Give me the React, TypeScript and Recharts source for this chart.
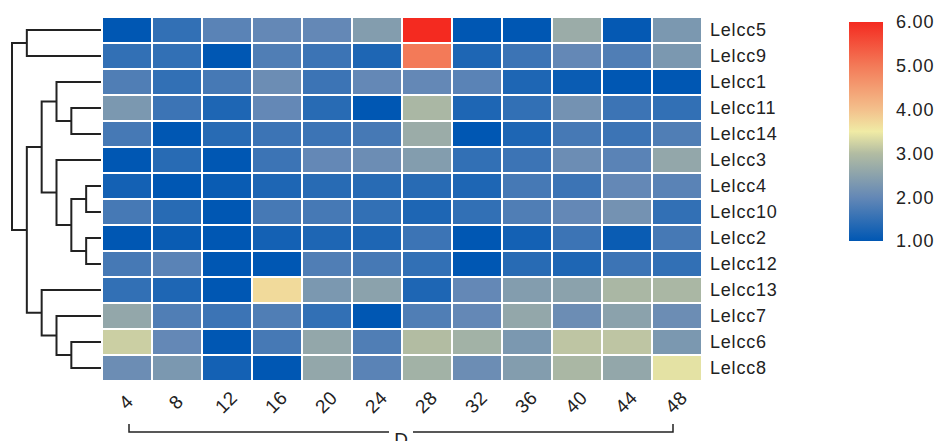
import React from 'react';
import { BarChart, Bar, Cell, XAxis, YAxis, ScatterChart, Scatter } from 'recharts';

const days = ['4', '8', '12', '16', '20', '24', '28', '32', '36', '40', '44', '48'];
const rowLabels = ['Lelcc5', 'Lelcc9', 'Lelcc1', 'Lelcc11', 'Lelcc14', 'Lelcc3', 'Lelcc4', 'Lelcc10', 'Lelcc2', 'Lelcc12', 'Lelcc13', 'Lelcc7', 'Lelcc6', 'Lelcc8'];

const lelcc5 = [1.0, 1.5, 1.9, 2.0, 2.0, 2.4, 6.0, 1.0, 1.0, 2.7, 1.05, 2.3];
const lelcc9 = [1.5, 1.5, 1.0, 1.8, 1.6, 1.3, 5.0, 1.3, 1.6, 2.0, 1.8, 2.3];
const lelcc1 = [1.8, 1.5, 1.7, 2.1, 1.6, 2.0, 2.0, 1.9, 1.3, 1.1, 1.0, 1.0];
const lelcc11 = [2.3, 1.6, 1.3, 2.0, 1.4, 1.0, 2.9, 1.3, 1.5, 2.2, 1.6, 1.5];
const lelcc14 = [1.7, 1.0, 1.4, 1.6, 1.6, 1.7, 2.7, 1.0, 1.3, 1.7, 1.6, 1.8];
const lelcc3 = [1.0, 1.4, 1.0, 1.6, 2.0, 2.1, 2.4, 1.5, 1.6, 2.1, 1.9, 2.6];
const lelcc4 = [1.2, 1.0, 1.1, 1.3, 1.4, 1.4, 1.4, 1.3, 1.7, 1.6, 2.0, 1.9];
const lelcc10 = [1.7, 1.4, 1.0, 1.7, 1.7, 1.5, 1.3, 1.5, 1.8, 2.0, 2.2, 1.5];
const lelcc2 = [1.0, 1.1, 1.0, 1.2, 1.3, 1.3, 1.6, 1.0, 1.2, 1.6, 1.1, 1.7];
const lelcc12 = [1.7, 1.9, 1.0, 1.0, 1.8, 1.7, 1.5, 1.0, 1.4, 1.3, 1.6, 1.5];
const lelcc13 = [1.5, 1.3, 1.0, 3.7, 2.3, 2.5, 1.3, 2.0, 2.4, 2.5, 2.9, 2.9];
const lelcc7 = [2.6, 1.8, 1.6, 1.8, 1.5, 1.0, 1.8, 2.0, 2.6, 2.1, 2.5, 2.1];
const lelcc6 = [3.2, 2.0, 1.0, 1.7, 2.6, 1.8, 3.0, 2.8, 2.3, 3.1, 3.1, 2.3];
const lelcc8 = [2.1, 2.3, 1.2, 1.0, 2.6, 1.9, 2.8, 2.1, 2.4, 2.9, 2.6, 3.4];

const rowValues = [lelcc5, lelcc9, lelcc1, lelcc11, lelcc14, lelcc3, lelcc4, lelcc10, lelcc2, lelcc12, lelcc13, lelcc7, lelcc6, lelcc8];

const legendTicks = [1, 2, 3, 4, 5, 6];

// dendrogram merges: children are leaf row indices (numbers) or node ids (strings); h = merge level
const treeNodes: { id: string; a: number | string; b: number | string; h: number }[] = [
  { id: 'I', a: 6, b: 7, h: 1 },
  { id: 'J', a: 8, b: 9, h: 1 },
  { id: 'G', a: 3, b: 4, h: 2 },
  { id: 'H', a: 'I', b: 'J', h: 2 },
  { id: 'L', a: 12, b: 13, h: 2 },
  { id: 'E', a: 2, b: 'G', h: 3 },
  { id: 'F', a: 5, b: 'H', h: 3 },
  { id: 'K', a: 11, b: 'L', h: 3 },
  { id: 'C', a: 'E', b: 'F', h: 4 },
  { id: 'D', a: 10, b: 'K', h: 4 },
  { id: 'A', a: 0, b: 1, h: 5 },
  { id: 'B', a: 'C', b: 'D', h: 5 },
  { id: 'R', a: 'A', b: 'B', h: 6 },
];

const colorStops: [number, number[]][] = [
  [1, [0, 87, 179]],
  [2, [100, 136, 182]],
  [3, [178, 188, 162]],
  [3.5, [240, 235, 165]],
  [4, [243, 192, 140]],
  [5, [243, 122, 88]],
  [6, [244, 42, 32]],
];

function colorFor(v: number): string {
  let i = 0;
  while (i < colorStops.length - 2 && v > colorStops[i + 1][0]) i++;
  const [v0, c0] = colorStops[i];
  const [v1, c1] = colorStops[i + 1];
  const t = Math.max(0, Math.min(1, (v - v0) / (v1 - v0)));
  const c = c0.map((x, k) => Math.round(x + (c1[k] - x) * t));
  return `rgb(${c[0]},${c[1]},${c[2]})`;
}

const nRows = rowLabels.length;
const heatData = days.map((d) => {
  const o: any = { day: d };
  rowLabels.forEach((_, ri) => {
    o[`r${ri}`] = 1;
  });
  return o;
});
const rowTicks = rowLabels.map((_, i) => nRows - 0.5 - i);

// dendrogram positions
const pos: Record<string, { x: number; y: number }> = {};
const posOf = (c: number | string) => (typeof c === 'number' ? { x: 0, y: nRows - 0.5 - c } : pos[c]);
const linkSeries = treeNodes.map((n) => {
  const pa = posOf(n.a);
  const pb = posOf(n.b);
  pos[n.id] = { x: n.h, y: (pa.y + pb.y) / 2 };
  return [
    { x: pa.x, y: pa.y },
    { x: n.h, y: pa.y },
    { x: n.h, y: pb.y },
    { x: pb.x, y: pb.y },
  ];
});

const FONT = '"Liberation Sans", Arial, sans-serif';

const XTick = (props: any) => {
  const { x, y, payload } = props;
  return (
    <g transform={`translate(${x - 1},${y + 13})`}>
      <text transform="rotate(-45)" textAnchor="middle" dy="0.35em" fontSize={19} letterSpacing={0.5} fill="#222" fontFamily={FONT}>
        {payload.value}
      </text>
    </g>
  );
};

const Bracket = (props: any) => {
  const vb = props.viewBox || {};
  const colW = vb.width / days.length;
  const x0 = vb.x + colW / 2 + 2;
  const x1 = vb.x + vb.width - colW / 2 - 4;
  const cx = (x0 + x1) / 2;
  const yl = vb.y + 51;
  return (
    <g>
      <path d={`M${x0},${yl - 8} V${yl} H${cx - 12} M${cx + 12},${yl} H${x1} V${yl - 8}`} stroke="#222" strokeWidth={1.5} fill="none" />
      <text x={cx} y={yl + 14} textAnchor="middle" fontSize={19} fill="#222" fontFamily={FONT}>D</text>
    </g>
  );
};

const Nothing = () => <g />;

const legendData = [{ name: 'scale', range: [legendTicks[0], legendTicks[legendTicks.length - 1]] }];

export default function App() {
  return (
    <div style={{ position: 'absolute', left: 0, top: 0, width: 941, height: 441, background: '#fff', fontFamily: FONT }}>
      <div style={{ position: 'absolute', left: 0, top: 0 }}>
        <ScatterChart width={102} height={441} margin={{ top: 17, right: 1, bottom: 60, left: 12 }}>
          <XAxis type="number" dataKey="x" domain={[0, 6]} reversed hide />
          <YAxis type="number" dataKey="y" domain={[0, nRows]} hide />
          {linkSeries.map((pts, i) => (
            <Scatter key={i} data={pts} line={{ stroke: '#222', strokeWidth: 2 }} shape={Nothing} isAnimationActive={false} />
          ))}
        </ScatterChart>
      </div>
      <div style={{ position: 'absolute', left: 0, top: 0 }}>
        <BarChart width={800} height={441} data={heatData} barCategoryGap={0} margin={{ top: 17, right: 0, bottom: 0, left: 102 }}>
          <XAxis dataKey="day" height={60} tickLine={false} axisLine={false} tick={<XTick />} interval={0} label={<Bracket />} />
          <YAxis
            orientation="right"
            type="number"
            domain={[0, nRows]}
            ticks={rowTicks}
            interval={0}
            width={98}
            tickLine={false}
            axisLine={false}
            tickFormatter={(v: number) => rowLabels[Math.round(nRows - 0.5 - v)]}
            tick={{ fontSize: 18, fill: '#222', fontFamily: FONT, letterSpacing: 0.8 }}
          />
          {rowLabels
            .map((_, ri) => nRows - 1 - ri)
            .map((ri) => (
              <Bar key={ri} dataKey={`r${ri}`} stackId="h" isAnimationActive={false} stroke="#fff" strokeWidth={2}>
                {days.map((d, ci) => (
                  <Cell key={d} fill={colorFor(rowValues[ri][ci])} />
                ))}
              </Bar>
            ))}
        </BarChart>
      </div>
      <div style={{ position: 'absolute', left: 820, top: 0 }}>
        <BarChart width={121} height={441} data={legendData} barCategoryGap={0} margin={{ top: 22, right: 0, bottom: 200, left: 29 }}>
          <defs>
            <linearGradient id="cbar" x1="0" y1="1" x2="0" y2="0">
              {colorStops.map(([v, c]) => (
                <stop key={v} offset={(v - legendTicks[0]) / (legendTicks[legendTicks.length - 1] - legendTicks[0])} stopColor={`rgb(${c[0]},${c[1]},${c[2]})`} />
              ))}
            </linearGradient>
          </defs>
          <XAxis dataKey="name" hide />
          <YAxis
            orientation="right"
            type="number"
            domain={[legendTicks[0], legendTicks[legendTicks.length - 1]]}
            ticks={legendTicks}
            interval={0}
            width={58}
            tickLine={false}
            axisLine={false}
            tickFormatter={(v: number) => v.toFixed(2)}
            tick={{ fontSize: 18, fill: '#222', fontFamily: FONT, dx: 5, letterSpacing: 0.8 }}
          />
          <Bar dataKey="range" fill="url(#cbar)" isAnimationActive={false} />
        </BarChart>
      </div>
    </div>
  );
}
